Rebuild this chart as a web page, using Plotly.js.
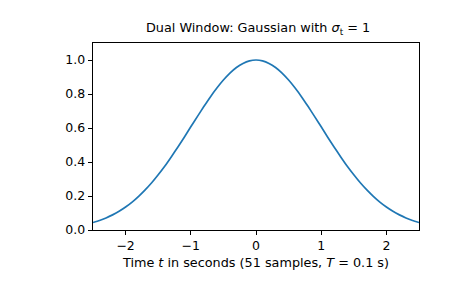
<!DOCTYPE html>
<html>
<head>
<meta charset="utf-8">
<script src="https://cdn.plot.ly/plotly-3.0.1.min.js"></script>
<style>html,body{margin:0;padding:0;background:#fff;}</style>
</head>
<body>
<div id="chart" style="width:465px;height:288px;"></div>
<script>
// 51 samples, T = 0.1 s, t from -2.5 to 2.5
const tValues = [-2.5,-2.4,-2.3,-2.2,-2.1,-2.0,-1.9,-1.8,-1.7,-1.6,-1.5,-1.4,-1.3,-1.2,-1.1,-1.0,-0.9,-0.8,-0.7,-0.6,-0.5,-0.4,-0.3,-0.2,-0.1,0.0,0.1,0.2,0.3,0.4,0.5,0.6,0.7,0.8,0.9,1.0,1.1,1.2,1.3,1.4,1.5,1.6,1.7,1.8,1.9,2.0,2.1,2.2,2.3,2.4,2.5];
const windowValues = [0.044,0.056,0.071,0.089,0.110,0.135,0.164,0.198,0.236,0.278,0.325,0.375,0.430,0.487,0.546,0.607,0.667,0.726,0.783,0.835,0.882,0.923,0.956,0.980,0.995,1.000,0.995,0.980,0.956,0.923,0.882,0.835,0.783,0.726,0.667,0.607,0.546,0.487,0.430,0.375,0.325,0.278,0.236,0.198,0.164,0.135,0.110,0.089,0.071,0.056,0.044];
const xTicks = [-2,-1,0,1,2];
const yTicks = [0.0,0.2,0.4,0.6,0.8,1.0];

const font = {family: 'DejaVu Sans', size: 12.5, color: '#000'};
const labelFont = {family: 'DejaVu Sans', size: 12.8, color: '#000'};
const trace = {
  x: tValues, y: windowValues, type: 'scatter', mode: 'lines',
  line: {color: '#1f77b4', width: 1.7, shape: 'spline', smoothing: 0.6}, hoverinfo: 'skip'
};
const axisCommon = {
  showgrid: false, zeroline: false, showline: true, mirror: true,
  linecolor: '#000', linewidth: 1, ticks: 'outside', ticklen: 4.4,
  tickwidth: 1, tickcolor: '#000', tickfont: font
};
const layout = {
  width: 465, height: 288,
  margin: {l: 93, r: 46, t: 43, b: 58},
  paper_bgcolor: '#fff', plot_bgcolor: '#fff',
  font: font, showlegend: false,
  title: {text: 'Dual Window: Gaussian with <i>σ</i><sub>t</sub> = 1', font: labelFont,
          x: 0.555, xanchor: 'center', y: 0.903, yanchor: 'middle'},
  xaxis: Object.assign({}, axisCommon, {
    range: [-2.5, 2.5], tickvals: xTicks, ticktext: xTicks.map(v => v < 0 ? '\u2212' + Math.abs(v) : String(v)),
    title: {text: 'Time <i>t</i> in seconds (51 samples, <i>T</i> = 0.1 s)', font: labelFont, standoff: 5}
  }),
  yaxis: Object.assign({}, axisCommon, {
    range: [0, 1.1], tickvals: yTicks, ticktext: yTicks.map(v => v.toFixed(1))
  })
};
Plotly.newPlot('chart', [trace], layout, {staticPlot: true, displayModeBar: false});
</script>
</body>
</html>
